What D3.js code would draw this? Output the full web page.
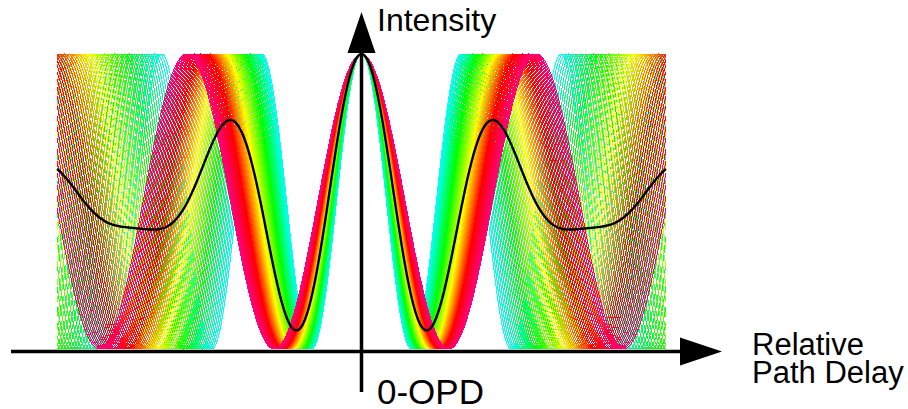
<!DOCTYPE html>
<html><head><meta charset="utf-8">
<script src="https://cdn.jsdelivr.net/npm/d3@7"></script>
<style>
html,body{margin:0;padding:0;background:#fff;}
svg{display:block;font-family:"Liberation Sans",Arial,sans-serif;}
</style></head>
<body>
<svg id="c" width="908" height="409"></svg>
<script>
// ---- data ----
// optical path difference window (µm)
const opdRange = [-1.22, 1.22];
// spectral sampling of the white-light source (µm)
const lambdaMin = 0.400, lambdaMax = 0.700, lambdaStep = 0.005;
const wavelengths = d3.range(lambdaMin, lambdaMax + 1e-9, lambdaStep);
// colour stops from shortest to longest wavelength
const colorStops = ["#00ffff", "#00ff00", "#ffff00", "#ff0000", "#ff0080"];
const labels = {y: "Intensity", x: ["Relative", "Path Delay"], origin: "0-OPD"};

// ---- layout ----
const svg = d3.select("#c");
const x = d3.scaleLinear().domain(opdRange).range([57, 666]);
const y = d3.scaleLinear().domain([0, 1]).range([349, 54]);
const color = d3.scaleLinear()
  .domain(colorStops.map((c, i) => lambdaMin + (lambdaMax - lambdaMin) * i / (colorStops.length - 1)))
  .range(colorStops).interpolate(d3.interpolateRgb);

const opd = d3.range(opdRange[0], opdRange[1] + 1e-9, (opdRange[1]-opdRange[0]) / 900);
const curves = wavelengths.map(l => ({
  l, pts: opd.map(d => [d, (1 + Math.cos(2 * Math.PI * d / l)) / 2])
}));
const mean = opd.map((d, i) => [d, d3.mean(curves, c => c.pts[i][1])]);

const line = d3.line().x(p => x(p[0])).y(p => y(p[1]));

svg.append("g").selectAll("path").data(curves).join("path")
  .attr("d", c => line(c.pts))
  .attr("fill", "none")
  .attr("stroke", c => color(c.l))
  .attr("stroke-width", 1)
  .attr("shape-rendering", "crispEdges");

svg.append("path").attr("d", line(mean))
  .attr("fill", "none").attr("stroke", "#000").attr("stroke-width", 2.4);

// axes
const x0 = x(0), yAxis = 351.5;
svg.append("line").attr("x1", 11).attr("x2", 682).attr("y1", yAxis).attr("y2", yAxis)
  .attr("stroke", "#000").attr("stroke-width", 3.5);
svg.append("line").attr("x1", x0).attr("x2", x0).attr("y1", 392).attr("y2", 52)
  .attr("stroke", "#000").attr("stroke-width", 3.5);
svg.append("path").attr("d", `M${x0 - 14},53 L${x0},12 L${x0 + 14},53 Z`).attr("fill", "#000");
svg.append("path").attr("d", `M680,${yAxis - 14} L722,${yAxis} L680,${yAxis + 14} Z`).attr("fill", "#000");

svg.append("text").attr("x", 377).attr("y", 31).attr("font-size", 32).text(labels.y);
svg.append("text").attr("x", 377).attr("y", 404).attr("font-size", 35).text(labels.origin);
svg.append("text").attr("x", 752).attr("y", 355).attr("font-size", 31).text(labels.x[0]);
svg.append("text").attr("x", 752).attr("y", 383).attr("font-size", 31).text(labels.x[1]);
</script>
</body></html>
